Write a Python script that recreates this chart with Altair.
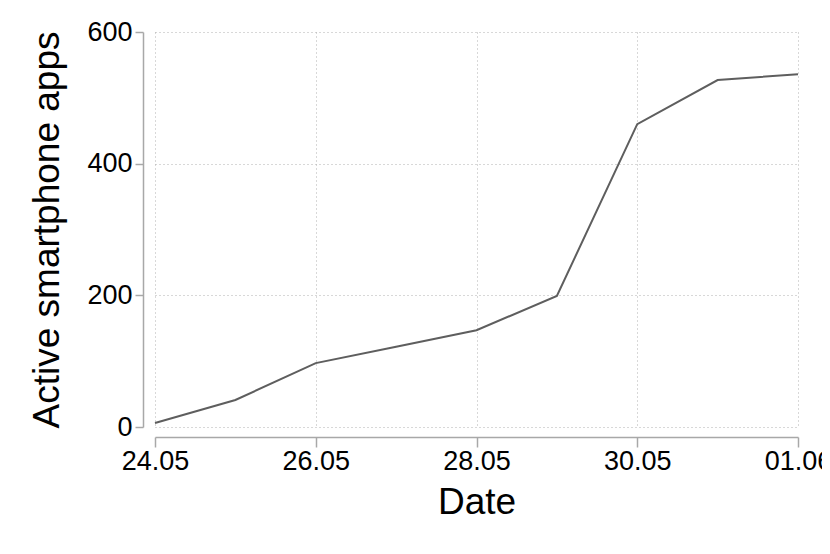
import altair as alt
import pandas as pd

dates = ["2020-05-24", "2020-05-25", "2020-05-26", "2020-05-27", "2020-05-28",
         "2020-05-29", "2020-05-30", "2020-05-31", "2020-06-01"]
apps = [6, 41, 97, 122, 147, 199, 460, 527, 536]
y_ticks = [0, 200, 400, 600]
x_tick_days = [(2020, 5, 24), (2020, 5, 26), (2020, 5, 28), (2020, 5, 30), (2020, 6, 1)]

df = pd.DataFrame({"date": dates, "apps": apps})

FONT = "Liberation Sans"

x_vals = [alt.DateTime(year=y, month=m, date=d, utc=True) for (y, m, d) in x_tick_days]

chart = alt.Chart(df).mark_line(color="#5e5e5e", strokeWidth=2).encode(
    x=alt.X("date:T",
            scale=alt.Scale(type="utc", nice=False),
            axis=alt.Axis(title="Date", values=x_vals,
                          labelExpr="utcFormat(datum.value, '%d.%m')",
                          labelFlush=False,
                          grid=True, gridDash=[1, 3], gridColor="#b0b0b0",
                          domainColor="#a8a8a8", domainWidth=1.5,
                          tickColor="#a8a8a8", tickWidth=1.5, tickSize=10,
                          labelFontSize=27, titleFontSize=37, labelPadding=1,
                          titlePadding=10, offset=10, labelFont=FONT, titleFont=FONT,
                          labelColor="black", titleColor="black", titleFontWeight="normal")),
    y=alt.Y("apps:Q",
            scale=alt.Scale(domain=[0, 600], nice=False, zero=True),
            axis=alt.Axis(title="Active smartphone apps", values=y_ticks,
                          grid=True, gridDash=[1, 3], gridColor="#b0b0b0",
                          domainColor="#a8a8a8", domainWidth=1.5,
                          tickColor="#a8a8a8", tickWidth=1.5, tickSize=8,
                          labelFontSize=27, titleFontSize=37, labelPadding=3,
                          titlePadding=20, offset=12, labelFont=FONT, titleFont=FONT,
                          labelColor="black", titleColor="black", titleFontWeight="normal")),
).properties(
    width=643, height=395,
    padding={"left": 20, "top": 10, "right": -10, "bottom": 5},
).configure_view(stroke=None)

chart.save("out.html", embed_options={"renderer": "svg", "actions": False})
